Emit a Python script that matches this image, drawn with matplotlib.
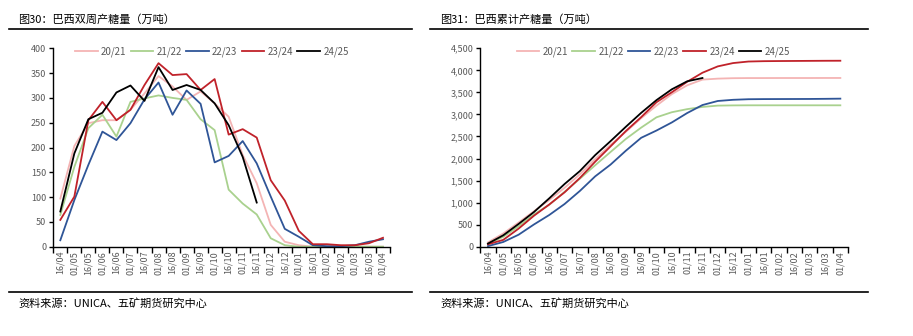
import matplotlib
matplotlib.use("Agg")
import matplotlib.pyplot as plt
from matplotlib.lines import Line2D
from matplotlib.ticker import FixedLocator, NullFormatter, FuncFormatter

plt.rcParams['font.family'] = ['Noto Sans CJK SC', 'DejaVu Sans']

categories = ["16/04", "01/05", "16/05", "01/06", "16/06", "01/07", "16/07", "01/08",
              "16/08", "01/09", "16/09", "01/10", "16/10", "01/11", "16/11", "01/12",
              "16/12", "01/01", "16/01", "01/02", "16/02", "01/03", "16/03", "01/04"]
seasons = ["20/21", "21/22", "22/23", "23/24", "24/25"]
colors = ["#F4B4B4", "#A9D18E", "#2F5597", "#C0222A", "#000000"]

# 双周产糖量（万吨）
bw_2021 = [97, 203, 249, 255, 255, 276, 309, 344, 323, 296, 313, 289, 262, 185, 128, 44, 10, 3, 0, 0, 0, 0, 0, 0]
bw_2122 = [64, 161, 239, 266, 222, 292, 299, 305, 300, 296, 257, 235, 115, 87, 65, 17, 3, 0, 0, 0, 0, 0, 0, 0]
bw_2223 = [13, 94, 165, 232, 215, 249, 297, 331, 266, 315, 288, 170, 183, 213, 168, 101, 36, 20, 3, 1, 1, 3, 10, 15]
bw_2324 = [54, 101, 255, 292, 255, 276, 326, 370, 346, 348, 316, 338, 226, 237, 220, 134, 93, 32, 5, 5, 3, 3, 7, 18]
bw_2425 = [71, 188, 257, 270, 311, 325, 294, 362, 316, 326, 316, 289, 245, 181, 89]

# 累计产糖量（万吨）
cum_2021 = [97, 300, 549, 804, 1059, 1335, 1644, 1988, 2311, 2607, 2915, 3200, 3460, 3660, 3790, 3812, 3822, 3825, 3825, 3826, 3826, 3826, 3827, 3827]
cum_2122 = [64, 225, 464, 730, 952, 1244, 1543, 1848, 2148, 2444, 2701, 2935, 3050, 3120, 3170, 3200, 3205, 3207, 3207, 3207, 3207, 3207, 3207, 3207]
cum_2223 = [13, 107, 272, 504, 719, 968, 1265, 1596, 1862, 2177, 2470, 2635, 2818, 3031, 3213, 3305, 3332, 3345, 3348, 3349, 3350, 3351, 3354, 3358]
cum_2324 = [54, 155, 410, 702, 957, 1233, 1559, 1929, 2275, 2623, 2939, 3277, 3503, 3740, 3946, 4090, 4165, 4200, 4208, 4211, 4213, 4215, 4217, 4218]
cum_2425 = [71, 259, 516, 786, 1097, 1422, 1716, 2078, 2394, 2720, 3036, 3325, 3570, 3751, 3826]

W, H = 913, 336
fig = plt.figure(figsize=(W / 100, H / 100), dpi=100)
grey = "#595959"

def px_rect(x0, y0, x1, y1):
    return [x0 / W, 1 - y1 / H, (x1 - x0) / W, (y1 - y0) / H]

def hline(x0, x1, y, lw=1.2):
    fig.add_artist(Line2D([x0 / W, x1 / W], [1 - y / H, 1 - y / H],
                          transform=fig.transFigure, color="black", lw=lw))

def setup(ax, ymax, step, fmt):
    n = len(categories)
    ax.set_xlim(-0.5, n - 0.5)
    ax.set_ylim(0, ymax)
    ax.xaxis.set_major_locator(FixedLocator([i - 0.5 for i in range(n + 1)]))
    ax.xaxis.set_major_formatter(NullFormatter())
    ax.xaxis.set_minor_locator(FixedLocator(list(range(n))))
    ax.set_xticklabels(categories, minor=True, rotation=90, fontsize=6.5, color=grey)
    ax.tick_params(axis='x', which='minor', length=0, pad=3)
    ax.tick_params(axis='x', which='major', length=4, width=1, direction='out')
    ax.set_yticks(range(0, ymax + 1, step))
    ax.yaxis.set_major_formatter(FuncFormatter(fmt))
    ax.tick_params(axis='y', length=3, width=1, labelsize=6.5, labelcolor=grey, pad=2)
    for s in ['top', 'right']:
        ax.spines[s].set_visible(False)
    for s in ['left', 'bottom']:
        ax.spines[s].set_linewidth(1.0)
    ax.set_facecolor('none')

def add_legend(ax):
    ax.legend(loc='center', bbox_to_anchor=(0.471, 0.985), ncol=5, frameon=False,
              fontsize=7, handlelength=2.3, handletextpad=0.35, columnspacing=0.45,
              labelcolor=grey, borderaxespad=0)

# Left chart
ax1 = fig.add_axes(px_rect(53.3, 48.3, 390, 246.7))
bw = [bw_2021, bw_2122, bw_2223, bw_2324, bw_2425]
for lab, c, v in zip(seasons, colors, bw):
    ax1.plot(range(len(v)), v, color=c, lw=1.3, label=lab)
setup(ax1, 400, 50, lambda v, p: f"{int(v)}")
add_legend(ax1)

# Right chart
ax2 = fig.add_axes(px_rect(480.3, 48.3, 848, 246.7))
cum = [cum_2021, cum_2122, cum_2223, cum_2324, cum_2425]
for lab, c, v in zip(seasons, colors, cum):
    ax2.plot(range(len(v)), v, color=c, lw=1.3, label=lab)
setup(ax2, 4500, 500, lambda v, p: f"{int(v):,}")
add_legend(ax2)

# Titles and separators
fig.text(18 / W, 1 - 20 / H, "图30：巴西双周产糖量（万吨）", fontsize=8, va='center', ha='left')
fig.text(440 / W, 1 - 20 / H, "图31：巴西累计产糖量（万吨）", fontsize=8, va='center', ha='left')
hline(9, 412, 29.3)
hline(430, 868, 29.3)
hline(9, 412, 292)
hline(430, 868, 292)
fig.text(18 / W, 1 - 303.5 / H, "资料来源：UNICA、五矿期货研究中心", fontsize=8, va='center', ha='left')
fig.text(440 / W, 1 - 303.5 / H, "资料来源：UNICA、五矿期货研究中心", fontsize=8, va='center', ha='left')

fig.savefig("out.png", dpi=100)
